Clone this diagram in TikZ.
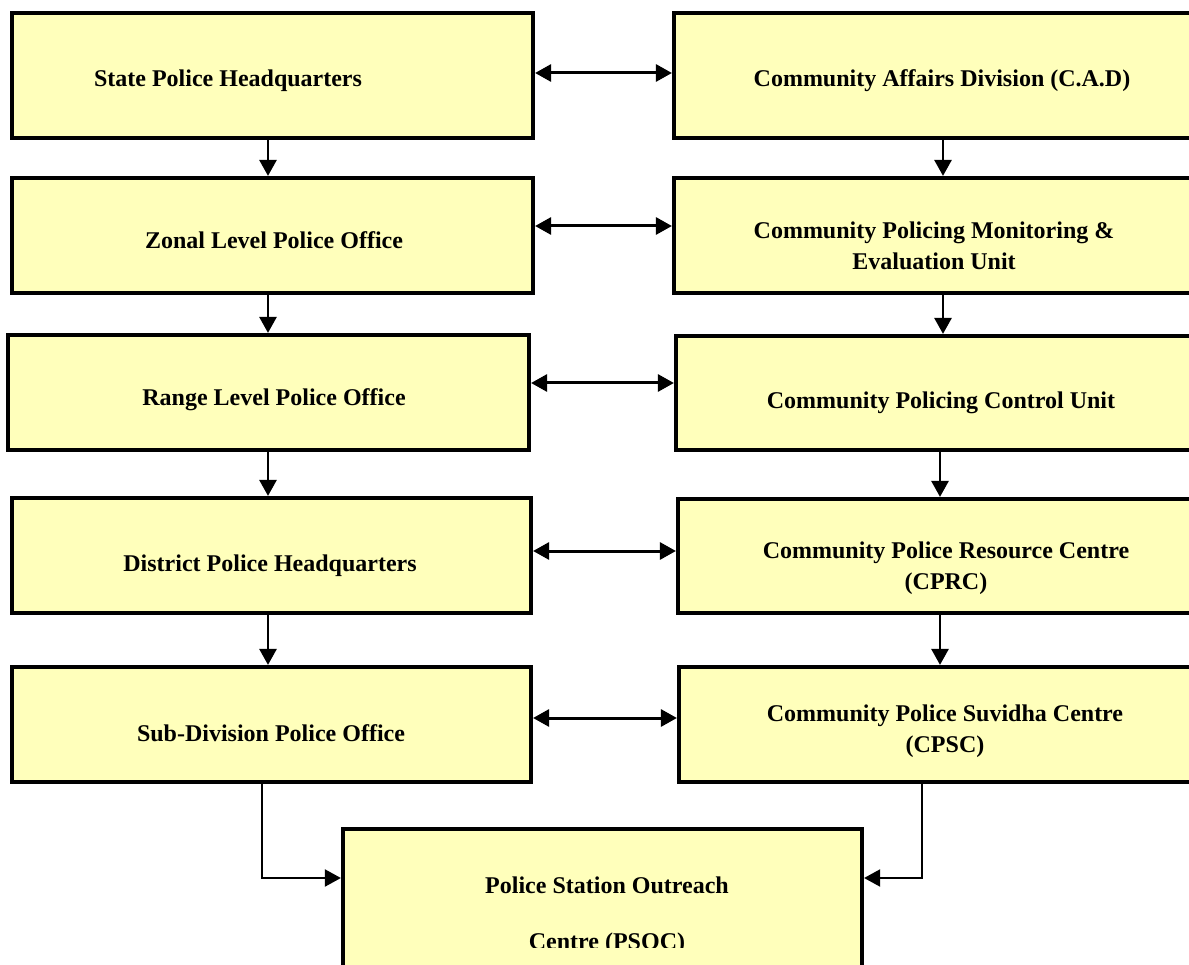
\documentclass[tikz,border=0pt]{standalone}
\usepackage{fontspec}
\setmainfont{Liberation Serif}
\usetikzlibrary{arrows.meta}
\definecolor{boxfill}{HTML}{FFFFBB}
\tikzset{
  box/.style={draw=black, line width=4.2pt, fill=boxfill, inner sep=0pt},
  lbl/.style={font=\fontsize{24}{31}\selectfont\bfseries, align=center, inner sep=0pt},
  tip/.style={Triangle[length=16pt,width=17pt]},
  varrow/.style={line width=2.8pt, -{Triangle[length=16pt,width=17pt]}},
  harrow/.style={line width=3pt, {Triangle[length=16pt,width=17pt]}-{Triangle[length=16pt,width=17pt]}},
  elbow/.style={line width=2pt, -{Triangle[length=16pt,width=17pt]}}
}
\begin{document}
\begin{tikzpicture}[x=1pt,y=-1pt]
\useasboundingbox (0,0) rectangle (1189,965);
\clip (0,0) rectangle (1189,965);
% column coordinates
\coordinate (lc) at (268,0);
\coordinate (rc) at (943,0);
\coordinate (rc2) at (940,0);
\coordinate (le) at (262,0);
\coordinate (re) at (922,0);
% left boxes
\node[box, minimum width=521pt, minimum height=125pt] (L1) at (272.5,75.5) {};
\node[box, minimum width=521pt, minimum height=115pt] (L2) at (272.5,235.5) {};
\node[box, minimum width=521pt, minimum height=115pt] (L3) at (268.5,392.5) {};
\node[box, minimum width=519pt, minimum height=115pt] (L4) at (271.5,555.5) {};
\node[box, minimum width=519pt, minimum height=115pt] (L5) at (271.5,724.5) {};
% right boxes
\node[box, minimum width=536pt, minimum height=125pt] (R1) at (942,75.5) {};
\node[box, minimum width=536pt, minimum height=115pt] (R2) at (942,235.5) {};
\node[box, minimum width=534pt, minimum height=114pt] (R3) at (943,393) {};
\node[box, minimum width=532pt, minimum height=114pt] (R4) at (944,556) {};
\node[box, minimum width=531pt, minimum height=115pt] (R5) at (944.5,724.5) {};
% bottom box
\node[box, minimum width=519pt, minimum height=190pt] (P) at (602.5,924) {};
% labels
\node[lbl] (tL1) at (228,81) {State Police Headquarters};
\node[lbl] (tL2) at (274,240) {Zonal Level Police Office};
\node[lbl] (tL3) at (274,400) {Range Level Police Office};
\node[lbl] (tL4) at (270,566) {District Police Headquarters};
\node[lbl] (tL5) at (271,733) {Sub-Division Police Office};
\node[lbl] (tR1) at (942,81) {Community Affairs Division (C.A.D)};
\node[lbl] (tR2) at (934,246) {Community Policing Monitoring \&\\Evaluation Unit};
\node[lbl] (tR3) at (941,403) {Community Policing Control Unit};
\node[lbl] (tR4) at (946,568) {Community Police Resource Centre\\(CPRC)};
\node[lbl] (tR5) at (945,731) {Community Police Suvidha Centre\\(CPSC)};
\node[lbl] (tP1) at (607,885) {Police Station Outreach};
\begin{scope}
\clip (343,829) rectangle (862,947);
\node[lbl] (tP2) at (607,944) {Centre (PSOC)};
\end{scope}
% vertical arrows
\draw[varrow] (L1.south -| lc) -- (L2.north -| lc);
\draw[varrow] (L2.south -| lc) -- (L3.north -| lc);
\draw[varrow] (L3.south -| lc) -- (L4.north -| lc);
\draw[varrow] (L4.south -| lc) -- (L5.north -| lc);
\draw[varrow] (R1.south -| rc) -- (R2.north -| rc);
\draw[varrow] (R2.south -| rc) -- (R3.north -| rc);
\draw[varrow] (R3.south -| rc2) -- (R4.north -| rc2);
\draw[varrow] (R4.south -| rc2) -- (R5.north -| rc2);
% horizontal double arrows
\draw[harrow] ([yshift=2.5pt]L1.east) -- ([yshift=2.5pt]L1.east -| R1.west);
\draw[harrow] ([yshift=9.5pt]L2.east) -- ([yshift=9.5pt]L2.east -| R2.west);
\draw[harrow] ([yshift=9.5pt]L3.east) -- ([yshift=9.5pt]L3.east -| R3.west);
\draw[harrow] ([yshift=4.5pt]L4.east) -- ([yshift=4.5pt]L4.east -| R4.west);
\draw[harrow] ([yshift=6.5pt]L5.east) -- ([yshift=6.5pt]L5.east -| R5.west);
% elbows to bottom box
\draw[elbow] (L5.south -| le) |- ([yshift=46pt]P.west);
\draw[elbow] (R5.south -| re) |- ([yshift=46pt]P.east);
\end{tikzpicture}
\end{document}
